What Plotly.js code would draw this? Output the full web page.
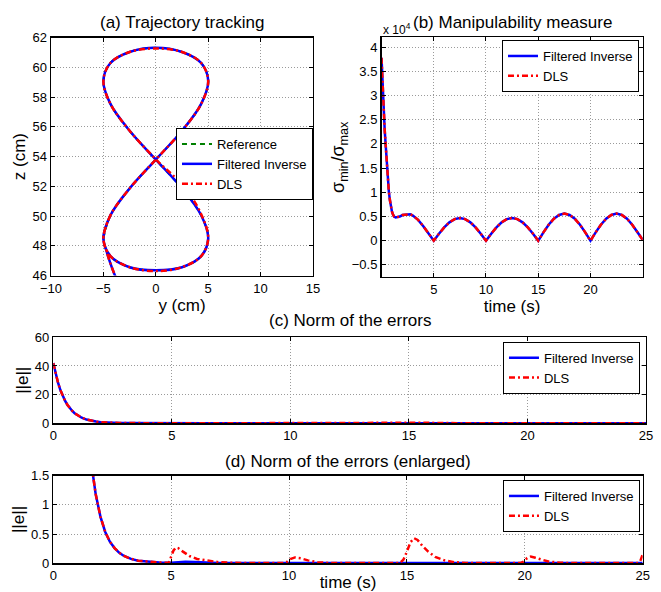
<!DOCTYPE html>
<html>
<head>
<meta charset="utf-8">
<script src="https://cdn.plot.ly/plotly-3.0.1.min.js"></script>
<style>html,body{margin:0;padding:0;background:#fff;}#chart{width:661px;height:592px;}</style>
</head>
<body>
<div id="chart"></div>
<script>
// ---------- (a) Trajectory tracking : y (cm), z (cm) ----------
const refLoopY = [-5, -4.33, -2.5, 0, 2.5, 4.33, 5, 4.33, 2.5, 0, -2.5, -4.33, -5, -4.33, -2.5, 0, 2.5, 4.33, 5, 4.33, 2.5, 0, -2.5, -4.33, -5, -4.33];
const refLoopZ = [48.5, 50.05, 51.86, 53.8, 55.74, 57.55, 59.1, 60.3, 61.04, 61.32, 61.04, 60.3, 59.1, 57.55, 55.74, 53.8, 51.86, 50.05, 48.5, 47.3, 46.56, 46.35, 46.56, 47.3, 48.5, 50.05];
const approachY = [-3.5, -3.9, -4.35, -4.75];
const approachZ = [45.3, 46.0, 46.85, 47.75];
const fiLoopY = [-5, -4.33, -2.5, 0, 2.5, 4.33, 5, 4.33, 2.5, 0, -2.5, -4.33, -5, -4.33, -2.5, 0, 2.5, 4.33, 5, 4.33, 2.5, 0, -2.5, -4.33, -5, -4.33];
const fiLoopZ = [48.5, 50.05, 51.86, 53.8, 55.74, 57.55, 59.1, 60.3, 61.04, 61.32, 61.04, 60.3, 59.1, 57.55, 55.74, 53.8, 51.86, 50.05, 48.5, 47.3, 46.56, 46.35, 46.56, 47.3, 48.5, 50.05];
const dlsLoopY = [-5, -4.33, -2.5, 0, 2.5, 4.33, 5, 4.33, 2.5, 0, -2.5, -4.33, -5, -4.33, -2.5, 0.1, 2.72, 4.36, 5, 4.33, 2.5, 0, -2.5, -4.33, -5, -4.33];
const dlsLoopZ = [48.5, 50.05, 51.86, 53.8, 55.74, 57.55, 59.1, 60.3, 61.04, 61.28, 61.04, 60.3, 59.1, 57.55, 55.74, 53.75, 51.95, 50.08, 48.5, 47.3, 46.56, 46.3, 46.56, 47.3, 48.5, 50.05];

// ---------- (b) Manipulability measure (x 10^4) ----------
const timeB = [0, 0.05, 0.1, 0.15, 0.2, 0.3, 0.4, 0.5, 0.6, 0.7, 0.8, 0.9, 1.0, 1.1, 1.2, 1.35, 1.5, 1.75, 2.0, 2.5, 2.75, 3.0, 3.5, 4.0, 4.5, 5.0,
  5.5, 6, 6.5, 7, 7.5, 8, 8.5, 9, 9.5, 10,
  10.5, 11, 11.5, 12, 12.5, 13, 13.5, 14, 14.5, 15,
  15.5, 16, 16.5, 17, 17.5, 18, 18.5, 19, 19.5, 20,
  20.5, 21, 21.5, 22, 22.5, 23, 23.5, 24, 24.5, 25];
const manipFI = [3.78, 3.5, 3.25, 3.0, 2.75, 2.3, 1.97, 1.6, 1.3, 1.02, 0.84, 0.7, 0.6, 0.54, 0.5, 0.48, 0.485, 0.5, 0.53, 0.55, 0.545, 0.52, 0.43, 0.3, 0.155, 0.0,
  0.145, 0.276, 0.38, 0.447, 0.47, 0.447, 0.38, 0.276, 0.145, 0.0,
  0.145, 0.276, 0.38, 0.447, 0.47, 0.447, 0.38, 0.276, 0.145, 0.0,
  0.173, 0.329, 0.453, 0.533, 0.56, 0.533, 0.453, 0.329, 0.173, 0.0,
  0.173, 0.329, 0.453, 0.533, 0.56, 0.533, 0.453, 0.329, 0.173, 0.02];
const manipDLS = [3.78, 3.5, 3.25, 3.0, 2.75, 2.3, 1.97, 1.6, 1.3, 1.02, 0.84, 0.7, 0.6, 0.54, 0.5, 0.48, 0.485, 0.5, 0.53, 0.55, 0.545, 0.52, 0.43, 0.3, 0.155, 0.0,
  0.145, 0.276, 0.38, 0.447, 0.47, 0.447, 0.38, 0.276, 0.145, 0.0,
  0.145, 0.276, 0.38, 0.447, 0.47, 0.447, 0.38, 0.276, 0.145, 0.0,
  0.173, 0.329, 0.453, 0.533, 0.56, 0.533, 0.453, 0.329, 0.173, 0.0,
  0.173, 0.329, 0.453, 0.533, 0.56, 0.533, 0.453, 0.329, 0.173, 0.02];

// ---------- (c)/(d) Norm of the errors ||e|| ----------
const timeFI = [0, 0.1, 0.2, 0.3, 0.4, 0.5, 0.6, 0.7, 0.8, 0.9, 1.0, 1.2, 1.4, 1.6, 1.8, 2.0, 2.2, 2.4, 2.6, 2.8, 3.0, 3.3, 3.6, 4.0, 4.5, 5.0, 5.3, 5.6, 6.0, 6.5, 7, 8, 10, 12, 15, 20, 25];
const errFI = [42, 34.5, 28.3, 23.2, 19.0, 15.6, 12.8, 10.5, 8.6, 7.0, 5.8, 3.9, 2.6, 1.75, 1.18, 0.8, 0.54, 0.37, 0.26, 0.18, 0.125, 0.075, 0.045, 0.025, 0.012, 0.01, 0.02, 0.025, 0.02, 0.01, 0.005, 0.004, 0.004, 0.004, 0.004, 0.004, 0.004];
const timeDLS = [0, 0.1, 0.2, 0.3, 0.4, 0.5, 0.6, 0.7, 0.8, 0.9, 1.0, 1.2, 1.4, 1.6, 1.8, 2.0, 2.2, 2.4, 2.6, 2.8, 3.0, 3.3, 3.6, 4.0, 4.5,
  4.9, 5.0, 5.1, 5.2, 5.3, 5.5, 5.8, 6.1, 6.5, 7.0, 7.5, 8.0,
  9.8, 9.9, 10.05, 10.25, 10.5, 10.8, 11.2, 11.7,
  14.7, 14.85, 15.0, 15.15, 15.3, 15.45, 15.65, 15.9, 16.2, 16.6, 17.0, 17.5,
  19.8, 19.95, 20.1, 20.25, 20.45, 20.7, 21.0, 21.5, 22.0,
  24.8, 24.9, 25.0];
const errDLS = [42, 34.5, 28.3, 23.2, 19.0, 15.6, 12.8, 10.5, 8.6, 7.0, 5.8, 3.9, 2.6, 1.75, 1.18, 0.8, 0.54, 0.37, 0.26, 0.18, 0.125, 0.075, 0.045, 0.025, 0.012,
  0.01, 0.12, 0.22, 0.27, 0.26, 0.2, 0.12, 0.075, 0.045, 0.02, 0.01, 0.005,
  0.003, 0.02, 0.07, 0.1, 0.085, 0.05, 0.02, 0.006,
  0.003, 0.06, 0.2, 0.36, 0.43, 0.4, 0.3, 0.2, 0.11, 0.05, 0.02, 0.006,
  0.003, 0.03, 0.09, 0.115, 0.095, 0.06, 0.03, 0.01, 0.004,
  0.003, 0.04, 0.15];

// ---------- tick labels ----------
const ticksAx = [-10, -5, 0, 5, 10, 15];
const ticksAz = [46, 48, 50, 52, 54, 56, 58, 60, 62];
const ticksBt = [5, 10, 15, 20];
const ticksBm = [-0.5, 0, 0.5, 1, 1.5, 2, 2.5, 3, 3.5, 4];
const ticksBmText = ['\u22120.5', '0', '0.5', '1', '1.5', '2', '2.5', '3', '3.5', '4'];
const ticksT = [0, 5, 10, 15, 20, 25];
const ticksC = [0, 20, 40, 60];
const ticksD = [0, 0.5, 1, 1.5];
const ticksDText = ['0', '0.5', '1', '1.5'];

const FONT = 'Liberation Sans, Arial, Helvetica, sans-serif';
const BLUE = '#0000ff', RED = '#ff0000', GREEN = '#008000';
const DLSDASH = '6px,3px,2px,3px';

function ax(extra) {
  return Object.assign({
    showline: true, linecolor: 'black', linewidth: 1.5, mirror: 'ticks',
    ticks: 'inside', ticklen: 4, tickwidth: 1, tickcolor: 'black',
    showgrid: true, gridcolor: '#9a9a9a', gridwidth: 1, griddash: '1px,2px',
    zeroline: false, tickfont: {family: FONT, size: 13, color: 'black'},
    automargin: false, fixedrange: true, tickmode: 'array'
  }, extra);
}

const traces = [
  {x: refLoopY, y: refLoopZ, xaxis: 'x', yaxis: 'y', name: 'Reference', legend: 'legend', mode: 'lines',
   line: {color: GREEN, width: 2, dash: '5px,4px', shape: 'spline'}},
  {x: approachY.concat(fiLoopY), y: approachZ.concat(fiLoopZ), xaxis: 'x', yaxis: 'y', name: 'Filtered Inverse', legend: 'legend', mode: 'lines',
   line: {color: BLUE, width: 2.5, shape: 'spline'}},
  {x: approachY.concat(dlsLoopY), y: approachZ.concat(dlsLoopZ), xaxis: 'x', yaxis: 'y', name: 'DLS', legend: 'legend', mode: 'lines',
   line: {color: RED, width: 2.5, dash: DLSDASH, shape: 'spline'}},

  {x: timeB, y: manipFI, xaxis: 'x2', yaxis: 'y2', name: 'Filtered Inverse', legend: 'legend2', mode: 'lines',
   line: {color: BLUE, width: 2.5}},
  {x: timeB, y: manipDLS, xaxis: 'x2', yaxis: 'y2', name: 'DLS', legend: 'legend2', mode: 'lines',
   line: {color: RED, width: 2.5, dash: DLSDASH}},

  {x: timeFI, y: errFI, xaxis: 'x3', yaxis: 'y3', name: 'Filtered Inverse', legend: 'legend3', mode: 'lines',
   line: {color: BLUE, width: 2.5}},
  {x: timeDLS, y: errDLS, xaxis: 'x3', yaxis: 'y3', name: 'DLS', legend: 'legend3', mode: 'lines',
   line: {color: RED, width: 2.5, dash: DLSDASH}},

  {x: timeFI, y: errFI, xaxis: 'x4', yaxis: 'y4', name: 'Filtered Inverse', legend: 'legend4', mode: 'lines',
   line: {color: BLUE, width: 2.5}},
  {x: timeDLS, y: errDLS, xaxis: 'x4', yaxis: 'y4', name: 'DLS', legend: 'legend4', mode: 'lines',
   line: {color: RED, width: 2.5, dash: DLSDASH}}
];

function leg(x, y) {
  return {x: x, y: y, xanchor: 'right', yanchor: 'top', bgcolor: 'white', bordercolor: 'black', borderwidth: 1,
          font: {family: FONT, size: 13, color: 'black'}, tracegroupgap: 0, itemwidth: 30};
}
const titleFont = {family: FONT, size: 17, color: 'black'};

const layout = {
  width: 661, height: 592,
  margin: {l: 0, r: 0, t: 0, b: 0},
  paper_bgcolor: 'white', plot_bgcolor: 'white',
  font: {family: FONT, size: 13, color: 'black'},
  showlegend: true,
  xaxis: ax({domain: [0.0772, 0.4735], range: [-10, 15], tickvals: ticksAx, anchor: 'y',
    title: {text: 'y (cm)', font: titleFont, standoff: 0}}),
  yaxis: ax({domain: [0.5346, 0.9363], range: [46, 62], tickvals: ticksAz, anchor: 'x',
    title: {text: 'z (cm)', font: titleFont, standoff: 2}}),
  xaxis2: ax({domain: [0.5772, 0.9723], range: [0, 25], tickvals: ticksBt, anchor: 'y2',
    title: {text: 'time (s)', font: titleFont, standoff: 0}}),
  yaxis2: ax({domain: [0.5321, 0.9367], range: [-0.75, 4.2], tickvals: ticksBm, ticktext: ticksBmText, anchor: 'x2',
    title: {text: '\u03c3<sub>min</sub>/\u03c3<sub>max</sub>', font: {family: FONT, size: 18, color: 'black'}, standoff: 2}}),
  xaxis3: ax({domain: [0.0806, 0.9773], range: [0, 25], tickvals: ticksT, anchor: 'y3'}),
  yaxis3: ax({domain: [0.2850, 0.4302], range: [0, 60], tickvals: ticksC, anchor: 'x3',
    title: {text: '||e||', font: titleFont, standoff: 2}}),
  xaxis4: ax({domain: [0.0806, 0.9723], range: [0, 25], tickvals: ticksT, anchor: 'y4',
    title: {text: 'time (s)', font: titleFont, standoff: 7}}),
  yaxis4: ax({domain: [0.0485, 0.1965], range: [0, 1.5], tickvals: ticksD, ticktext: ticksDText, anchor: 'x4',
    title: {text: '||e||', font: titleFont, standoff: 2}}),
  legend: leg(0.4735, 0.7838),
  legend2: leg(0.9667, 0.9324),
  legend3: leg(0.9682, 0.4228),
  legend4: leg(0.9682, 0.1892),
  annotations: [
    {text: '(a) Trajectory tracking', xref: 'paper', yref: 'paper', x: 0.2753, y: 1 - 23 / 592, xanchor: 'center', yanchor: 'middle', showarrow: false, font: titleFont},
    {text: '(b) Manipulability measure', xref: 'paper', yref: 'paper', x: 0.7746, y: 1 - 22 / 592, xanchor: 'center', yanchor: 'middle', showarrow: false, font: titleFont},
    {text: 'x 10<sup>4</sup>', xref: 'paper', yref: 'paper', x: 381 / 661, y: 1 - 29 / 592, xanchor: 'left', yanchor: 'middle', showarrow: false, font: {family: FONT, size: 12, color: 'black'}},
    {text: '(c) Norm of the errors', xref: 'paper', yref: 'paper', x: 350 / 661, y: 1 - 320 / 592, xanchor: 'center', yanchor: 'middle', showarrow: false, font: titleFont},
    {text: '(d) Norm of the errors (enlarged)', xref: 'paper', yref: 'paper', x: 348 / 661, y: 1 - 461 / 592, xanchor: 'center', yanchor: 'middle', showarrow: false, font: titleFont}
  ]
};

Plotly.newPlot('chart', traces, layout, {staticPlot: true, displayModeBar: false});
</script>
</body>
</html>
